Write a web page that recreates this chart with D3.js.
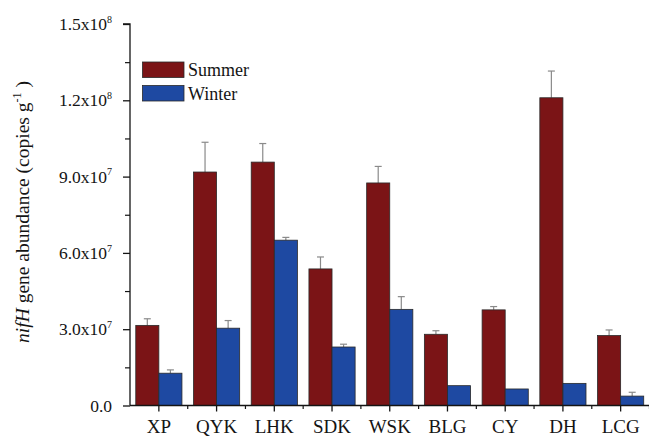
<!DOCTYPE html>
<html>
<head>
<meta charset="utf-8">
<script src="https://cdn.jsdelivr.net/npm/d3@7"></script>
<style>
  html, body { margin: 0; padding: 0; background: #fff; }
  svg { display: block; font-family: "Liberation Serif", "DejaVu Serif", serif; }
</style>
</head>
<body>
<svg id="chart" width="649" height="436"></svg>
<script>
const categories = ["XP", "QYK", "LHK", "SDK", "WSK", "BLG", "CY", "DH", "LCG"];
const seriesNames = ["Summer", "Winter"];
const summerValues = [31.5e6, 91.8e6, 95.7e6, 53.7e6, 87.5e6, 28.0e6, 37.6e6, 121.0e6, 27.5e6];
const summerErrors = [2.6e6, 11.7e6, 7.3e6, 4.7e6, 6.5e6, 1.4e6, 1.3e6, 10.5e6, 2.2e6];
const winterValues = [12.7e6, 30.4e6, 65.0e6, 23.0e6, 37.8e6, 7.8e6, 6.5e6, 8.7e6, 3.7e6];
const winterErrors = [1.3e6, 3.0e6, 1.1e6, 1.1e6, 5.0e6, 0, 0, 0, 1.5e6];
const yTickValues = [0, 3.0e7, 6.0e7, 9.0e7, 1.2e8, 1.5e8];
const yTickMantissa = ["0.0", "3.0x10", "6.0x10", "9.0x10", "1.2x10", "1.5x10"];
const yTickExponent = ["", "7", "7", "7", "8", "8"];

const colors = { Summer: "#7b1416", Winter: "#1e49a2" };
const ink = "#141414";

const svg = d3.select("#chart");
const x0 = 130, x1 = 649.5, yBottom = 405.5, yTop = 24;

const x = d3.scaleBand().domain(categories).range([x0, x1]).padding(0);
const y = d3.scaleLinear().domain([0, 1.5e8]).range([yBottom, yTop]);
const sub = d3.scaleBand().domain(seriesNames).range([0, x.bandwidth()]).paddingInner(0).paddingOuter(0.25);

const data = categories.map((c, i) => ({
  cat: c,
  vals: [
    { s: "Summer", v: summerValues[i], e: summerErrors[i] },
    { s: "Winter", v: winterValues[i], e: winterErrors[i] }
  ]
}));

// Error bars (drawn first, behind bars)
const errColor = "#8a8a8a";
data.forEach(d => {
  d.vals.forEach(b => {
    if (!b.e) return;
    const cx = x(d.cat) + sub(b.s) + sub.bandwidth() / 2;
    svg.append("line").attr("x1", cx).attr("x2", cx)
      .attr("y1", y(b.v)).attr("y2", y(b.v + b.e))
      .attr("stroke", errColor).attr("stroke-width", 1.2);
    svg.append("line").attr("x1", cx - 3.5).attr("x2", cx + 3.5)
      .attr("y1", y(b.v + b.e)).attr("y2", y(b.v + b.e))
      .attr("stroke", errColor).attr("stroke-width", 1.2);
  });
});

// Bars
const g = svg.append("g");
data.forEach(d => {
  g.selectAll(null).data(d.vals).enter().append("rect")
    .attr("x", b => x(d.cat) + sub(b.s))
    .attr("y", b => y(b.v))
    .attr("width", sub.bandwidth())
    .attr("height", b => yBottom - y(b.v))
    .attr("fill", b => colors[b.s])
    .attr("stroke", "#2a2a2a")
    .attr("stroke-width", 0.8);
});

// Y axis
const yAxis = d3.axisLeft(y).tickValues(yTickValues).tickSize(7).tickFormat("");
const yg = svg.append("g").attr("transform", `translate(${x0},0)`).call(yAxis);
yg.select(".domain").attr("stroke", ink).attr("stroke-width", 1.3).attr("d", `M-7,${yTop}H0V${yBottom}`);
yg.selectAll(".tick line").attr("stroke", ink).attr("stroke-width", 1.3);
// minor ticks
const yMinor = d3.axisLeft(y).tickValues([1.5e7, 4.5e7, 7.5e7, 1.05e8, 1.35e8]).tickSize(5).tickFormat("");
const ym = svg.append("g").attr("transform", `translate(${x0},0)`).call(yMinor);
ym.select(".domain").remove();
ym.selectAll(".tick line").attr("stroke", ink).attr("stroke-width", 1.2);

// Y tick labels with superscripts
yTickValues.forEach((v, i) => {
  const t = svg.append("text")
    .attr("x", 112).attr("y", y(v)).attr("dy", "0.35em")
    .attr("text-anchor", "end").attr("font-size", 17.5).attr("fill", ink);
  t.append("tspan").text(yTickMantissa[i]);
  if (yTickExponent[i]) {
    t.append("tspan").attr("font-size", 10).attr("dy", "-0.75em").text(yTickExponent[i]);
  }
});

// X axis
const xAxis = d3.axisBottom(x).tickSize(6).tickFormat("");
const xg = svg.append("g").attr("transform", `translate(0,${yBottom})`).call(xAxis);
xg.select(".domain").attr("stroke", ink).attr("stroke-width", 1.3).attr("d", `M${x0},0H${x1}`);
xg.selectAll(".tick line").attr("stroke", ink).attr("stroke-width", 1.3);
// minor ticks at band boundaries
const boundaries = categories.map(c => x(c) + x.bandwidth());
svg.append("g").selectAll("line").data(boundaries).enter().append("line")
  .attr("x1", d => d).attr("x2", d => d)
  .attr("y1", yBottom).attr("y2", yBottom + 3.5)
  .attr("stroke", ink).attr("stroke-width", 1.2);

svg.append("g").selectAll("text").data(categories).enter().append("text")
  .attr("x", d => x(d) + x.bandwidth() / 2).attr("y", 433)
  .attr("text-anchor", "middle").attr("font-size", 19).attr("fill", ink)
  .text(d => d);

// Y axis title
const yt = svg.append("text")
  .attr("transform", `translate(29,212) rotate(-90)`)
  .attr("text-anchor", "middle").attr("font-size", 19.5).attr("fill", ink);
yt.append("tspan").attr("font-style", "italic").text("nifH");
yt.append("tspan").text(" gene abundance (copies g");
yt.append("tspan").attr("font-size", 12).attr("dy", "-0.7em").text("-1");
yt.append("tspan").attr("dy", "0.45em").text(" )");

// Legend
const legend = svg.append("g");
seriesNames.forEach((s, i) => {
  const ly = 62 + i * 23.5;
  legend.append("rect").attr("x", 142.5).attr("y", ly).attr("width", 41.5).attr("height", 15.5)
    .attr("fill", colors[s]).attr("stroke", "#2a2a2a").attr("stroke-width", 0.8);
  legend.append("text").attr("x", 188).attr("y", ly + 14).attr("font-size", 18).attr("fill", ink).text(s);
});
</script>
</body>
</html>
